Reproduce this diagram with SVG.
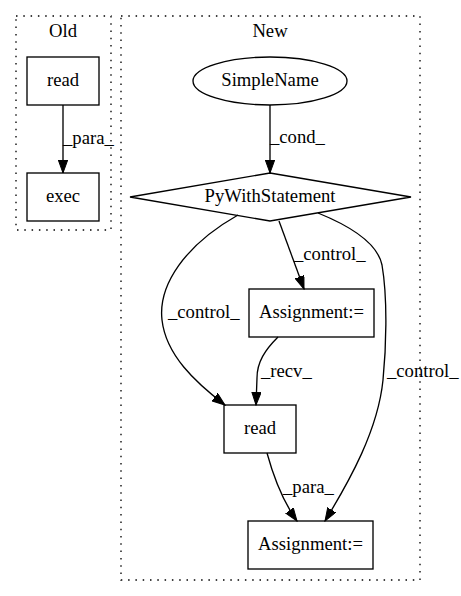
<svg xmlns="http://www.w3.org/2000/svg" width="461" height="596" viewBox="0 0 461 596">
<style>
.node{fill:none;stroke:#000;stroke-width:1.33}
.cluster{fill:none;stroke:#000;stroke-width:1.33;stroke-dasharray:1.5,5.8}
.edge{fill:none;stroke:#000;stroke-width:1.33}
</style>
<defs>
<marker id="ah" markerUnits="userSpaceOnUse" markerWidth="14" markerHeight="10" refX="13" refY="4.7" orient="auto">
<path d="M0,0 L13,4.7 L0,9.4 z" fill="#000" stroke="#000" stroke-width="1"/>
</marker>
</defs>
<g font-family="'Liberation Serif', 'Times New Roman', 'DejaVu Serif', serif" font-size="18.67" fill="#000">
<g id="cluster_old">
<rect class="cluster" x="16" y="16" width="95" height="214"/>
<text text-anchor="middle" x="63" y="37">Old</text>
</g>
<g id="cluster_new">
<rect class="cluster" x="121" y="16" width="299" height="564"/>
<text text-anchor="middle" x="270" y="37">New</text>
</g>
<g id="edges">
<path class="edge" marker-end="url(#ah)" d="M63,105 L63,173"/>
<text x="63" y="144">_para_</text>
<path class="edge" marker-end="url(#ah)" d="M270,105 L270,173"/>
<text x="270" y="143">_cond_</text>
<path class="edge" marker-end="url(#ah)" d="M279,221 L304,289"/>
<text x="294" y="260">_control_</text>
<path class="edge" marker-end="url(#ah)" d="M238,215 C185,245 158,285 162,320 C166,355 195,382 225,405"/>
<text x="168" y="318">_control_</text>
<path class="edge" marker-end="url(#ah)" d="M278,337 C265,350 257,362 257,378 L256,405"/>
<text x="261" y="377">_recv_</text>
<path class="edge" marker-end="url(#ah)" d="M318,213 C355,228 378,245 382,265 C388,300 386,350 383,380 C378,430 350,480 325,521"/>
<text x="387" y="377">_control_</text>
<path class="edge" marker-end="url(#ah)" d="M267,453 C273,475 282,500 297,521"/>
<text x="283" y="493">_para_</text>
</g>
<g id="old_read">
<rect class="node" x="27" y="57" width="72" height="48"/>
<text text-anchor="middle" x="63" y="86">read</text>
</g>
<g id="old_exec">
<rect class="node" x="27" y="173" width="72" height="48"/>
<text text-anchor="middle" x="63" y="202">exec</text>
</g>
<g id="simplename">
<ellipse class="node" cx="270" cy="81" rx="77" ry="24"/>
<text text-anchor="middle" x="270" y="86">SimpleName</text>
</g>
<g id="pywith">
<polygon class="node" points="270,173 411,197 270,221 130,197"/>
<text text-anchor="middle" x="270" y="202">PyWithStatement</text>
</g>
<g id="assign1">
<rect class="node" x="249" y="289" width="125" height="48"/>
<text text-anchor="middle" x="311.5" y="318">Assignment:=</text>
</g>
<g id="new_read">
<rect class="node" x="224" y="405" width="72" height="48"/>
<text text-anchor="middle" x="260" y="434">read</text>
</g>
<g id="assign2">
<rect class="node" x="248" y="521" width="125" height="48"/>
<text text-anchor="middle" x="310.5" y="550">Assignment:=</text>
</g>
</g>
</svg>
